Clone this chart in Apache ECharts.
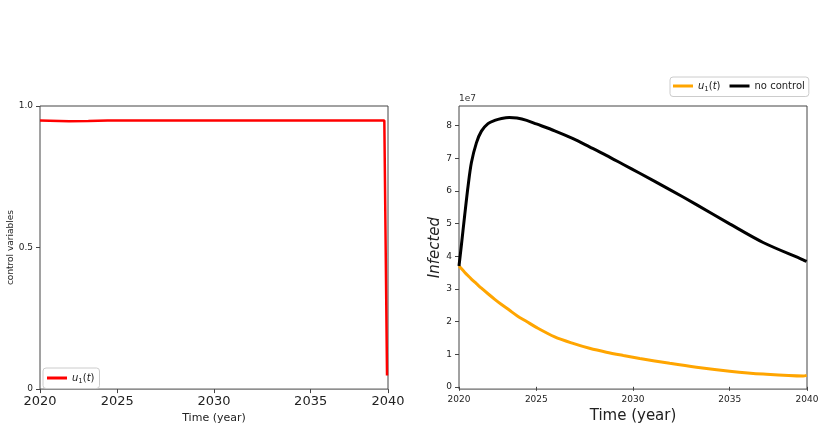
<!DOCTYPE html>
<html>
<head>
<meta charset="utf-8">
<script src="https://cdn.jsdelivr.net/npm/echarts@6/dist/echarts.min.js"></script>
<style>
  html, body { margin: 0; padding: 0; background: #fff; }
  #chart { width: 824px; height: 429px; }
</style>
</head>
<body>
<div id="chart"></div>
<script>
// time axis in model units (0..18), labelled with years at uneven positions
var tickPos = [0, 4, 9, 14, 18];
var tickYears = ['2020', '2025', '2030', '2035', '2040'];

// left panel: control u1(t)
var timeU = [0, 0.5, 1.5, 2.5, 3.5, 6, 10, 14, 17.81, 17.95];
var u1 = [0.949, 0.948, 0.946, 0.947, 0.949, 0.949, 0.949, 0.949, 0.949, 0.048];

// right panel: infected (x 1e7)
var timeI = [0, 0.12, 0.29, 0.47, 0.64, 0.9, 1.16, 1.5, 1.85, 2.2, 2.6, 3.0, 3.5, 4.0,
  4.95, 5.9, 6.75, 7.62, 8.5, 9.35, 10.9, 12.28, 14.0, 15.73, 17.8, 17.98];
var infControl = [3.70, 3.62, 3.51, 3.40, 3.30, 3.16, 3.02, 2.85, 2.68, 2.52, 2.35, 2.18, 2.00, 1.82,
  1.53, 1.33, 1.18, 1.06, 0.96, 0.87, 0.72, 0.60, 0.48, 0.39, 0.33, 0.35];
var infNoControl = [3.70, 4.32, 5.23, 6.15, 6.86, 7.47, 7.83, 8.06, 8.16, 8.22, 8.25, 8.23, 8.16, 8.05,
  7.84, 7.60, 7.35, 7.09, 6.81, 6.54, 6.04, 5.58, 4.99, 4.42, 3.89, 3.84];
var infTicks = [0, 1, 2, 3, 4, 5, 6, 7, 8];

var font = 'DejaVu Sans';
var axisColor = '#444';

function pairs(xs, ys) {
  return xs.map(function(x, i) { return [x, ys[i]]; });
}
function yearLabel(v) {
  var i = tickPos.indexOf(v);
  return i < 0 ? '' : tickYears[i];
}
var uRich = {
  i: { fontStyle: 'italic', fontFamily: font, fontSize: 10, color: '#222' },
  n: { fontFamily: font, fontSize: 10, color: '#222' },
  s: { fontFamily: font, fontSize: 7, color: '#222', verticalAlign: 'bottom', padding: [6, 0, 0, 0] }
};
function legendName(name) {
  if (name.indexOf('u1') === 0) return '{i|u}{s|1}{n|(}{i|t}{n|)}';
  return '{n|' + name + '}';
}

var chart = echarts.init(document.getElementById('chart'));

var option = {
  animation: false,
  backgroundColor: '#fff',
  title: {
    text: '1e7', left: 459, top: 94, padding: 0,
    textStyle: { fontFamily: font, fontSize: 9, fontWeight: 'normal', color: '#333' }
  },
  legend: [
    {
      data: ['u1 control'], left: 43, top: 368, padding: [5, 5, 4, 4],
      icon: 'rect', itemWidth: 20, itemHeight: 3,
      borderColor: '#ccc', borderWidth: 1, borderRadius: 3,
      formatter: legendName, textStyle: { rich: uRich }
    },
    {
      data: ['u1 infected', 'no control'], left: 670, top: 77, padding: [4, 4, 4, 3],
      icon: 'rect', itemWidth: 20, itemHeight: 3, itemGap: 9,
      borderColor: '#ccc', borderWidth: 1, borderRadius: 3,
      formatter: legendName, textStyle: { rich: uRich }
    }
  ],
  grid: [
    { left: 40, top: 106, width: 348, height: 284, show: true, borderColor: axisColor, borderWidth: 1 },
    { left: 459, top: 106, width: 348, height: 284, show: true, borderColor: axisColor, borderWidth: 1 }
  ],
  xAxis: [
    {
      type: 'value', gridIndex: 0, min: 0, max: 18,
      name: 'Time (year)', nameLocation: 'middle', nameGap: 20,
      nameTextStyle: { fontFamily: font, fontSize: 11, color: '#222' },
      axisLine: { show: false },
      axisTick: { show: true, length: 4, customValues: tickPos, lineStyle: { color: axisColor } },
      axisLabel: { customValues: tickPos, formatter: yearLabel, margin: 6,
        fontFamily: font, fontSize: 13, color: '#222' },
      splitLine: { show: false }
    },
    {
      type: 'value', gridIndex: 1, min: 0, max: 18,
      name: 'Time (year)', nameLocation: 'middle', nameGap: 17,
      nameTextStyle: { fontFamily: font, fontSize: 15, color: '#222' },
      axisLine: { show: false },
      axisTick: { show: true, length: 4, customValues: tickPos, lineStyle: { color: axisColor } },
      axisLabel: { customValues: tickPos, formatter: yearLabel, margin: 6,
        fontFamily: font, fontSize: 9, color: '#222' },
      splitLine: { show: false }
    }
  ],
  yAxis: [
    {
      type: 'value', gridIndex: 0, min: 0, max: 1, interval: 0.5,
      name: 'control variables', nameLocation: 'middle', nameGap: 24,
      nameTextStyle: { fontFamily: font, fontSize: 9, color: '#222' },
      axisLine: { show: false },
      axisTick: { show: true, length: 4, lineStyle: { color: axisColor } },
      axisLabel: { margin: 7, fontFamily: font, fontSize: 9, color: '#222',
        formatter: function(v) { return v === 1 ? '1.0' : String(v); } },
      splitLine: { show: false }
    },
    {
      type: 'value', gridIndex: 1, min: -0.07, max: 8.6,
      name: 'Infected', nameLocation: 'middle', nameGap: 15,
      nameTextStyle: { fontFamily: font, fontSize: 15, fontStyle: 'italic', color: '#222' },
      axisLine: { show: false },
      axisTick: { show: true, length: 4, customValues: infTicks, lineStyle: { color: axisColor } },
      axisLabel: { customValues: infTicks, margin: 7, fontFamily: font, fontSize: 9, color: '#222' },
      splitLine: { show: false }
    }
  ],
  series: [
    {
      name: 'u1 control', type: 'line', xAxisIndex: 0, yAxisIndex: 0,
      data: pairs(timeU, u1), showSymbol: false, color: '#ff0000',
      lineStyle: { width: 2.5, color: '#ff0000' }
    },
    {
      name: 'u1 infected', type: 'line', xAxisIndex: 1, yAxisIndex: 1,
      data: pairs(timeI, infControl), showSymbol: false, color: '#ffa500',
      smooth: 0.3,
      lineStyle: { width: 3, color: '#ffa500' }
    },
    {
      name: 'no control', type: 'line', xAxisIndex: 1, yAxisIndex: 1,
      data: pairs(timeI, infNoControl), showSymbol: false, color: '#000',
      smooth: 0.3,
      lineStyle: { width: 3, color: '#000' }
    }
  ]
};

chart.setOption(option);
</script>
</body>
</html>
